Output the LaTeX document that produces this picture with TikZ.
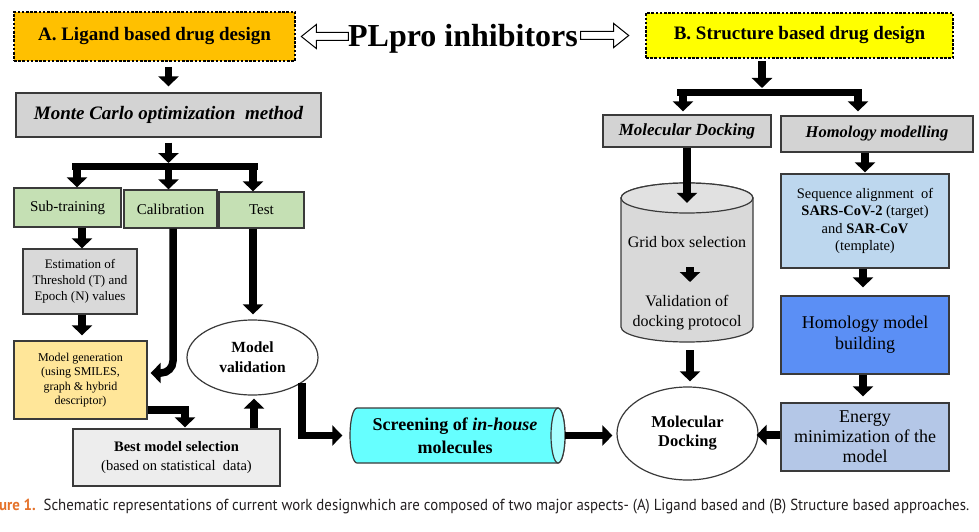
\documentclass[tikz,border=0pt]{standalone}
\usepackage{fontspec}
\setmainfont{Liberation Serif}
\newfontfamily\capfont{PT Sans}
\usetikzlibrary{arrows.meta,shapes.geometric}
\definecolor{aorange}{HTML}{FFC000}
\definecolor{byellow}{HTML}{FFFF00}
\definecolor{mcgray}{HTML}{D3D3D3}
\definecolor{lgreen}{HTML}{C5E0B4}
\definecolor{estgray}{HTML}{D9D9D9}
\definecolor{mgyellow}{HTML}{FFE699}
\definecolor{bestgray}{HTML}{EDEDED}
\definecolor{scrcyan}{HTML}{66FFFF}
\definecolor{scrcap}{HTML}{A8FFFF}
\definecolor{enblue}{HTML}{B4C7E7}
\definecolor{hbblue}{HTML}{5B8FF5}
\definecolor{seqblue}{HTML}{BDD7EE}
\definecolor{bordergray}{HTML}{3A3A3A}
\definecolor{caporange}{HTML}{E5722A}
\definecolor{captext}{HTML}{231F20}
\newcommand\fsz[2]{\fontsize{#1}{#2}\selectfont}
\begin{document}
\begin{tikzpicture}[x=1pt,y=-1pt,
  box/.style={draw=bordergray, line width=1.3pt, inner sep=0pt, align=center, text=black},
  dotbox/.style={draw=black, line width=2.6pt, dash pattern=on 2.6pt off 1.6pt, inner sep=0pt, align=center},
  ellbox/.style={ellipse, draw=bordergray, line width=1.2pt, fill=white, inner sep=0pt, align=center},
  blk/.style={line width=7.5pt, -{Triangle[width=20pt,length=10pt]}},
  blkline/.style={line width=7.5pt},
  hollow/.style={draw=black, line width=1pt, fill=white, line join=miter},
  cylline/.style={draw=bordergray, line width=1.2pt},
  plain/.style={inner sep=0pt, align=center}]
\useasboundingbox (0,0) rectangle (979,532);
\fill[white] (0,0) rectangle (979,532);

% top row
\node[dotbox, fill=aorange, minimum width=281pt, minimum height=49pt, font=\fsz{19}{22}\bfseries] (A) at (154.5,36.5) {A. Ligand based drug design};
\node[dotbox, fill=byellow, minimum width=307pt, minimum height=45pt, font=\fsz{19}{22}\bfseries] (B) at (799.5,35.5) {B. Structure based drug design};
\node[plain, anchor=base, font=\fsz{32}{36}\bfseries] (PL) at (463,47) {PLpro inhibitors};
\coordinate (hlt) at ([xshift=5pt]A.east);
\draw[hollow] (hlt) -- ++(15,-12) -- ++(0,8) -- ++(32,0) -- ++(0,8) -- ++(-32,0) -- ++(0,8) -- cycle;
\coordinate (hrt) at ([xshift=-16pt]B.west);
\draw[hollow] (hrt) -- ++(-15,-12) -- ++(0,8) -- ++(-33,0) -- ++(0,8) -- ++(33,0) -- ++(0,8) -- cycle;

% ligand side
\node[box, fill=mcgray, minimum width=305pt, minimum height=44pt, font=\fsz{19}{22}\bfseries\itshape] (MC) at (168.5,115) {Monte Carlo optimization\ \ method};
\node[box, fill=lgreen, minimum width=107pt, minimum height=39pt, font=\fsz{15}{18}] (Sub) at (67.5,207.5) {Sub-training};
\node[box, fill=lgreen, minimum width=93pt, minimum height=38pt, font=\fsz{15}{18}] (Cal) at (170.5,209) {Calibration};
\node[box, fill=lgreen, minimum width=85pt, minimum height=36pt, font=\fsz{15}{18}] (Test) at (261.5,210) {Test};
\node[box, fill=estgray, minimum width=114pt, minimum height=65pt, font=\fsz{13}{16}] (Est) at (80,281.5) {Estimation of\\Threshold (T) and\\Epoch (N) values};
\node[box, fill=mgyellow, minimum width=133pt, minimum height=78pt, font=\fsz{12}{14.5}] (MG) at (80.5,380) {Model generation\\(using SMILES,\\graph \& hybrid\\descriptor)};
\node[box, fill=bestgray, minimum width=207pt, minimum height=57pt, font=\fsz{14.5}{19}] (Best) at (176.5,457.5) {\textbf{Best model selection}\\(based on statistical\ \ data)};
\node[ellbox, minimum width=131pt, minimum height=75pt, font=\fsz{15.5}{20}\bfseries] (MV) at (252.5,357.5) {Model\\validation};

% horizontal cylinder (screening)
\draw[cylline, fill=scrcyan] (558,408) -- (357,408) arc[start angle=90, end angle=270, x radius=7pt, y radius=27.5pt] -- (558,463) arc[start angle=270, end angle=450, x radius=7pt, y radius=27.5pt] -- cycle;
\draw[cylline, fill=scrcap] (558,435.5) ellipse[x radius=7pt, y radius=27.5pt];
\node[plain, minimum width=215pt, minimum height=55pt, font=\fsz{18}{23}\bfseries] (Scr) at (455,435.5) {Screening of \textit{in-house}\\molecules};

% structure side
\node[box, fill=mcgray, minimum width=168pt, minimum height=32pt, font=\fsz{17}{20}\bfseries\itshape] (MDb) at (687,131) {Molecular Docking};
\node[box, fill=mcgray, minimum width=192pt, minimum height=36pt, font=\fsz{16.5}{20}\bfseries\itshape] (HMb) at (877,134) {Homology modelling};
\node[box, fill=seqblue, minimum width=168pt, minimum height=94pt, font=\fsz{14.5}{17.5}] (Seq) at (865,221) {Sequence alignment\ \ of\\\textbf{SARS-CoV-2} (target)\\and \textbf{SAR-CoV}\\(template)};
\node[box, fill=hbblue, minimum width=168pt, minimum height=78pt, font=\fsz{18}{21}] (HB) at (865,335) {Homology model\\building};
\node[box, fill=enblue, minimum width=168pt, minimum height=68pt, font=\fsz{18}{20}] (En) at (865,437) {Energy\\minimization of the\\model};
\node[ellbox, minimum width=141pt, minimum height=93pt, font=\fsz{16.5}{19}\bfseries] (MolD) at (687.5,433.5) {Molecular\\Docking};

% vertical cylinder
\node[minimum width=132pt, minimum height=159pt, inner sep=0pt] (gcyl) at (687,262.5) {};
\draw[cylline, fill=estgray] (621,198) -- (621,327) arc[start angle=180, end angle=360, x radius=66pt, y radius=15pt] -- (753,198) arc[start angle=0, end angle=180, x radius=66pt, y radius=15pt] -- cycle;
\draw[cylline, fill=estgray!80!white] (687,198) ellipse[x radius=66pt, y radius=15pt];
\node[plain, font=\fsz{16}{20}] (gridt) at (687,242) {Grid box selection};
\node[plain, font=\fsz{16}{20}] (valt) at (687,313) {Validation of\\docking protocol};

% caption
\node[plain, anchor=base west, font=\capfont\fsz{16}{18}, text=captext] (cap) at (-1,510) {\resizebox{970pt}{\height}{\textcolor{caporange}{\bfseries ure 1.}\ \ Schematic representations of current work designwhich are composed of two major aspects- (A) Ligand based and (B) Structure based approaches.}};

% ligand connectors
\draw[blk] ([xshift=14pt,yshift=-5pt]A.south) -- ([xshift=0pt,yshift=6pt]MC.north);
\coordinate (barL) at (72,166.5);
\coordinate (barR) at (258,166.5);
\draw[blkline] (barL) -- (barR);
\draw[blk] ([yshift=-5pt]MC.south) -- ([yshift=3.5pt]MC.south |- barL);
\draw[blk] ([xshift=5pt]barL) -- ([xshift=5pt]barL |- Sub.north);
\draw[blk] (MC.south |- barL) -- (MC.south |- Cal.north);
\draw[blk] ([xshift=-5pt]barR) -- ([xshift=-5pt]barR |- Test.north);
\draw[blk] ([xshift=14.5pt]Sub.south) -- ([xshift=2pt]Est.north);
\draw[blk] ([xshift=2pt]Est.south) -- ([xshift=1.5pt,yshift=5pt]MG.north);
\draw[blk, rounded corners=12pt] ([xshift=2.5pt]Cal.south) |- ([shift={(3pt,7pt)}]MG.east);
\draw[blk] ([xshift=-8.5pt]Test.south) -- ([xshift=0.5pt,yshift=5pt]MV.north);
\draw[blk] ([yshift=-30pt]MG.east) -| ([xshift=8.5pt,yshift=1pt]Best.north);
\draw[blk] ([xshift=77.5pt]Best.north) -- ([xshift=1.5pt,yshift=-3pt]MV.south);
\draw[blk] (MV.-27) |- ([xshift=-5pt]Scr.west);
\draw[blk, shorten >=4pt] ([xshift=2pt]Scr.east) -- (Scr.east -| MolD.west);

% structure connectors
\coordinate (bbL) at (677,92.5);
\coordinate (bbR) at (862,92.5);
\draw[blkline] (bbL) -- (bbR);
\draw[blk] ([xshift=-37.5pt,yshift=-2pt]B.south) -- ([xshift=-37.5pt,yshift=4.5pt]B.south |- bbL);
\draw[blk] ([xshift=6pt]bbL) -- ([xshift=6pt,yshift=3pt]bbL |- MDb.north);
\draw[blk] ([xshift=-4pt]bbR) -- ([xshift=-4pt,yshift=4pt]bbR |- HMb.north);
\draw[blk] ([xshift=-12pt]HMb.south) -- ([yshift=1pt]Seq.north);
\draw[blk] ([xshift=-2pt]Seq.south) -- ([xshift=-2pt,yshift=8pt]HB.north);
\draw[blk] ([xshift=-2pt]HB.south) -- ([xshift=-2pt,yshift=6pt]En.north);
\draw[blk, shorten >=-2pt] ([yshift=2pt]En.west) -- ([yshift=2pt]En.west -| MolD.east);
\draw[blk] (MDb.south) -- ([yshift=-20pt]gcyl.north);
\draw[blk] ([shift={(3pt,-25pt)}]gridt.center) -- ([shift={(3pt,-40pt)}]gridt.center);
\draw[blk] ([shift={(3pt,-8pt)}]gcyl.south) -- ([shift={(2.5pt,5pt)}]MolD.north);
\end{tikzpicture}
\end{document}
